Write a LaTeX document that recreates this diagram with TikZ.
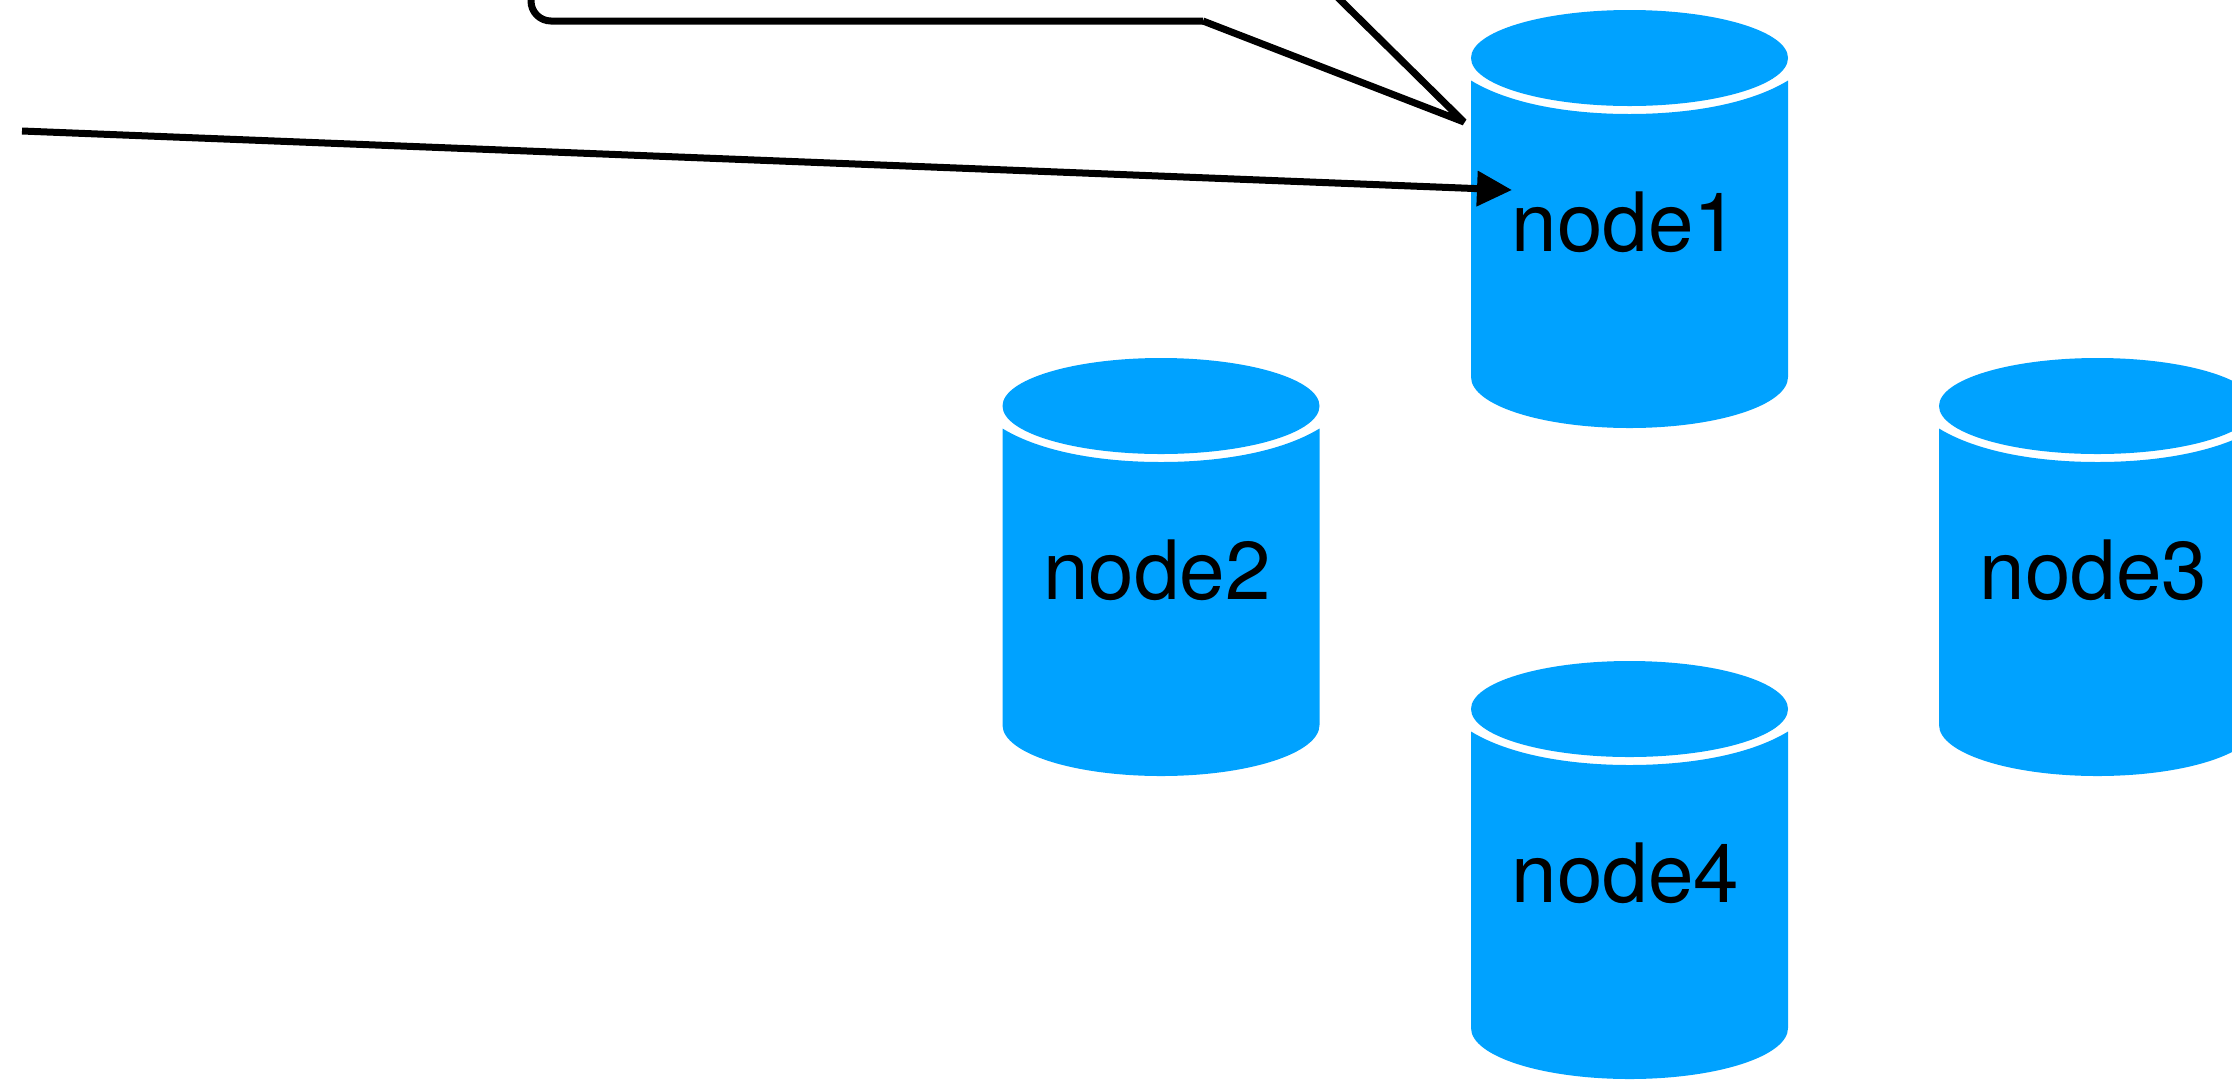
\documentclass[tikz,border=0pt]{standalone}
\usepackage{fontspec}
\setmainfont{TeX Gyre Heros}
\usepackage{tikz}
\usetikzlibrary{arrows.meta,calc}
\definecolor{dbblue}{HTML}{00A2FF}
\tikzset{
  dbfill/.style={fill=dbblue,draw=none},
  dblabel/.style={font=\fontsize{23.3}{28}\selectfont,anchor=base west,inner sep=0pt},
  blackline/.style={line width=0.07cm,black},
}
\begin{document}
\begin{tikzpicture}
\useasboundingbox (0,0) rectangle (22.32,-10.79);
\clip (0,0) rectangle (22.32,-10.79);
% the four cylinders
\foreach \name/\cx/\cy in {node1/16.295/-0.58, node2/11.61/-4.06, node3/20.975/-4.06, node4/16.295/-7.09}{
  \fill[dbfill] (\cx,\cy) ellipse (1.585 and 0.48);
  \fill[dbfill] ($(\cx,\cy)+(-1.585,-0.225)$) .. controls ($(\cx,\cy)+(-1.2,-0.46)$) and ($(\cx,\cy)+(-0.6,-0.56)$) .. ($(\cx,\cy)+(0,-0.56)$)
    .. controls ($(\cx,\cy)+(0.6,-0.56)$) and ($(\cx,\cy)+(1.2,-0.46)$) .. ($(\cx,\cy)+(1.585,-0.225)$)
    -- ($(\cx,\cy)+(1.585,-3.19)$) arc (0:-180:1.585 and 0.51) -- cycle;
  \node[dblabel] (\name) at ($(\cx,\cy)+(-1.185,-1.93)$) {\name};
}
% the line into node1
\coordinate (start) at (0.22,-1.31);
\coordinate (tip) at (15.12,-1.90);
\draw[blackline,-{Triangle[length=0.35cm,width=0.34cm]}] (start) -- (tip);
% the line that leaves the picture at the top
\coordinate (top) at (5.31,0.2);
\coordinate (bend) at (12.03,-0.21);
\coordinate (corner) at (14.64,-1.22);
\coordinate (back) at (13.2,0.2);
\draw[blackline,rounded corners=0.2cm] (top) -- (5.31,-0.21) -- (bend);
\draw[blackline,line join=bevel] (bend) -- (corner) -- (back);
\end{tikzpicture}
\end{document}
